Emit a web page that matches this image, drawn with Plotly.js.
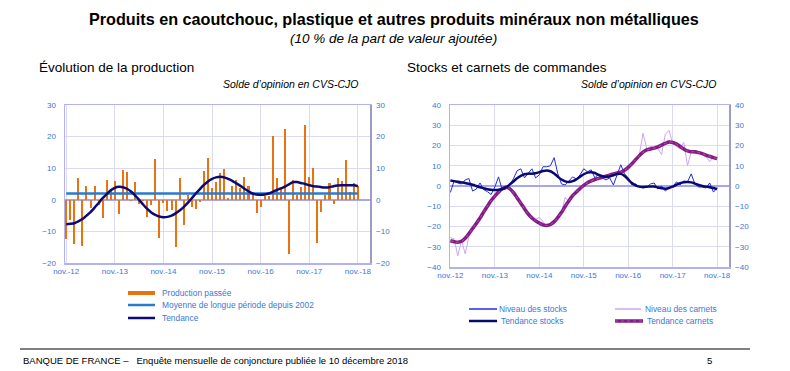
<!DOCTYPE html>
<html><head><meta charset="utf-8">
<script src="https://cdn.plot.ly/plotly-3.0.1.min.js"></script>
<style>html,body{margin:0;padding:0;background:#fff}#chart{width:790px;height:371px}</style>
</head><body><div id="chart"></div>
<script>
// ---- Data (monthly, nov. 2012 -> nov. 2018) ----
const tickLabels = ['nov.-12','nov.-13','nov.-14','nov.-15','nov.-16','nov.-17','nov.-18'];
const tickPos = [0, 12, 24, 36, 48, 60, 72];

const productionPassee = [
  -12.5, -6.4, -14, 6.8, -14.6, 4.5, -2.5, 4.5, -1.7, -5.6,
  6.2, 3, 6, -4.5, 9.4, 8.9, -0.4, 5.7, -1.4, -0.3,
  -5.4, -1.7, 12.9, -12, -1, -3.5, -3.3, -15, 7, -8,
  1.5, -2.2, -2.9, -0.6, 9.2, 13.2, 3.6, 5.7, 8.5, 9.7,
  0.5, 4.5, 6.2, 3.8, 7.3, 4.3, 1.5, -4.1, -2.2, 1.2,
  1.2, 20.2, 7, 3.8, 22.5, -17.3, 6.2, 1.5, 3.9, 23.8,
  7.2, 10, -13.7, -3.9, 1.4, 5.3, -1.2, 7, 6.1, 12.5,
  2.5, 5.4, 4.3
];
const moyenneLonguePeriode = 2.0;
const tendanceProduction = [
  -7.7, -7.6, -7.4, -6.8, -6.1, -5.0, -3.9, -2.5, -1.0, 0.5,
  1.8, 3.0, 3.8, 4.1, 4.0, 3.5, 2.6, 1.4, 0.0, -1.5,
  -2.9, -4.0, -4.8, -5.3, -5.5, -5.4, -5.0, -4.3, -3.4, -2.3,
  -1.0, 0.5, 2.0, 3.4, 4.7, 5.8, 6.6, 7.1, 7.3, 7.1,
  6.6, 6.0, 5.2, 4.4, 3.5, 2.7, 2.0, 1.7, 1.6, 1.7,
  2.0, 2.5, 3.1, 3.6, 4.2, 4.9, 5.6, 5.6, 5.3, 5.0,
  4.6, 4.3, 4.2, 4.0, 3.9, 4.0, 4.3, 4.5, 4.6, 4.6,
  4.6, 4.6, 4.3
];
const niveauStocks = [
  -3.2, 2.5, 1.5, 1.0, 3.0, 3.7, -2.5, -1.5, 1.5, -1.8,
  -2.8, -4.2, -0.5, 4.5, -2.0, -1.5, 0.5, 3.5, 7.5, 8.5,
  4.0, 6.0, 8.5, 4.0, 5.5, 9.5, 9.5, 10.0, 14.0, 6.0,
  1.0, 0.5, 2.5, 4.5, 3.5, 5.5, 8.5, 7.0, 8.0, 4.0,
  6.0, 4.0, 3.0, 4.0, 0.5, 6.0, 10.5, 6.0, 4.0, 0.5,
  1.0, -0.5, -1.0, -0.5, 1.0, 1.5, -1.5, 0.0, -2.5, -1.0,
  -0.5, 2.0, 0.5, 2.5, 2.0, 6.0, 1.0, -0.5, -0.5, -1.0,
  1.5, -3.0, -1.0
];
const tendanceStocks = [
  2.7, 2.4, 2.1, 1.8, 1.5, 1.1, 0.6, 0.0, -0.6, -1.1,
  -1.6, -1.9, -2.0, -1.9, -1.5, -0.6, 0.7, 2.2, 3.8, 5.0,
  5.8, 6.1, 6.1, 6.3, 6.8, 7.4, 7.7, 7.3, 6.2, 4.6,
  3.2, 2.3, 2.0, 2.4, 3.3, 4.6, 5.8, 6.6, 6.8, 6.4,
  5.5, 4.8, 4.5, 4.7, 5.3, 5.9, 6.0, 5.0, 3.2, 1.5,
  0.3, -0.3, -0.5, -0.4, -0.2, -0.3, -0.7, -1.1, -1.3, -1.0,
  -0.3, 0.6, 1.4, 1.9, 2.0, 1.8, 1.2, 0.5, 0.0, -0.3,
  -0.6, -1.0, -1.5
];
const niveauCarnets = [
  -25.5, -26.0, -34.5, -27.0, -33.5, -25.0, -20.0, -17.5, -15.5, -12.5,
  -10.5, -7.0, -4.5, -3.0, -1.5, 0.0, -0.5, -2.5, -6.0, -8.5,
  -11.0, -15.0, -14.5, -16.5, -15.5, -17.5, -20.0, -19.5, -18.5, -17.0,
  -13.0, -5.5, -8.0, -4.0, -3.0, -0.5, 1.0, 1.5, 2.0, 4.0,
  3.0, 5.5, 4.0, 5.0, 6.5, 5.5, 7.5, 7.0, 10.0, 11.0,
  13.0, 15.5, 26.0, 18.5, 19.5, 19.0, 18.5, 15.5, 25.5, 27.5,
  21.0, 19.5, 18.5, 21.5, 10.0, 17.0, 16.0, 16.5, 15.5, 14.5,
  12.0, 14.0, 13.5
];
const tendanceCarnets = [
  -27.0, -27.5, -27.8, -27.3, -25.8, -23.5, -21.0, -18.5, -15.8, -12.8,
  -10.0, -7.2, -5.0, -3.0, -1.3, -0.6, -1.3, -3.2, -5.8, -8.5,
  -11.2, -13.8, -15.8, -17.2, -18.3, -19.2, -19.5, -19.0, -17.6, -15.5,
  -13.0, -10.0, -7.3, -4.8, -3.0, -1.2, 0.3, 1.6, 2.5, 3.2,
  3.8, 4.3, 4.9, 5.4, 6.0, 6.5, 6.9, 7.8, 9.2, 11.0,
  13.0, 15.0, 16.7, 17.8, 18.3, 18.7, 19.3, 20.2, 21.0, 21.7,
  21.5, 20.8, 19.5, 18.3, 17.3, 16.9, 16.9, 16.5, 16.0, 15.3,
  14.6, 14.0, 13.5
];
const months = productionPassee.map((_, i) => i);

// ---- Styling helpers ----
const W = 790, H = 371;
const fx = p => p / W;
const fy = p => 1 - p / H;
const FONT = 'Liberation Sans, Arial, sans-serif';
const TICKBLUE = '#3A78D6';
const GRID = '#DADAF7';
const FRAME = '#B2B2F2';
const ORANGE = '#E8730F';

const traces = [
  {type: 'bar', x: months, y: productionPassee, xaxis: 'x', yaxis: 'y',
   marker: {color: ORANGE, line: {width: 0}}, width: 0.5, name: 'Production passée', showlegend: false},
  {type: 'scatter', mode: 'lines', x: [months[0], months[months.length - 1]],
   y: [moyenneLonguePeriode, moyenneLonguePeriode], xaxis: 'x', yaxis: 'y',
   line: {color: '#2A7AD0', width: 2.5}, name: 'Moyenne de longue période depuis 2002', showlegend: false},
  {type: 'scatter', mode: 'lines', x: months, y: tendanceProduction, xaxis: 'x', yaxis: 'y3',
   line: {color: '#0A0A78', width: 2.5, shape: 'spline'}, name: 'Tendance', showlegend: false},

  {type: 'scatter', mode: 'lines', x: months, y: niveauCarnets, xaxis: 'x2', yaxis: 'y2',
   line: {color: '#CDA6F2', width: 1}, name: 'Niveau des carnets', showlegend: false},
  {type: 'scatter', mode: 'lines', x: months, y: niveauStocks, xaxis: 'x2', yaxis: 'y2',
   line: {color: '#1E2EE6', width: 1}, name: 'Niveau des stocks', showlegend: false},
  {type: 'scatter', mode: 'lines', x: months, y: tendanceCarnets, xaxis: 'x2', yaxis: 'y2',
   line: {color: '#841A84', width: 3.5, shape: 'spline'}, name: 'Tendance carnets', showlegend: false},
  {type: 'scatter', mode: 'lines', x: months, y: tendanceCarnets, xaxis: 'x2', yaxis: 'y2',
   line: {color: '#A858A8', width: 1, dash: 'dot', shape: 'spline'}, hoverinfo: 'skip', showlegend: false},
  {type: 'scatter', mode: 'lines', x: months, y: tendanceStocks, xaxis: 'x2', yaxis: 'y4',
   line: {color: '#0A0A6E', width: 2.5, shape: 'spline'}, name: 'Tendance stocks', showlegend: false}
];

const tf = () => ({family: FONT, size: 8, color: TICKBLUE});
const xBase = () => ({
  tickvals: tickPos, ticktext: tickLabels, showgrid: true, gridcolor: GRID, gridwidth: 1,
  showline: true, mirror: true, linecolor: FRAME, linewidth: 1.5, zeroline: false,
  ticks: '', color: TICKBLUE, tickfont: tf(), fixedrange: true
});
const yBase = () => ({
  dtick: 10, showgrid: true, gridcolor: GRID, gridwidth: 1, zeroline: true,
  zerolinecolor: '#A6A6EC', zerolinewidth: 1.5, showline: true, mirror: true, color: TICKBLUE,
  linecolor: FRAME, linewidth: 1.5, ticks: '', tickfont: tf(), ticklabelstandoff: 6, fixedrange: true
});
const yRight = () => ({
  side: 'right', dtick: 10, showgrid: false, zeroline: false, showline: true, color: TICKBLUE,
  linecolor: '#9C9CC6', linewidth: 1.5, ticks: '', tickfont: tf(), ticklabelstandoff: 3, fixedrange: true
});

const layout = {
  width: W, height: H, margin: {l: 0, r: 0, t: 0, b: 0},
  paper_bgcolor: '#fff', plot_bgcolor: '#fff', showlegend: false, bargap: 0,
  font: {family: FONT},
  xaxis: Object.assign(xBase(), {domain: [fx(65), fx(370)], range: [-0.3, 75], anchor: 'y'}),
  yaxis: Object.assign(yBase(), {domain: [fy(263), fy(105)], range: [-20, 30], anchor: 'x'}),
  yaxis3: Object.assign(yRight(), {overlaying: 'y', anchor: 'x', range: [-20, 30]}),
  xaxis2: Object.assign(xBase(), {domain: [fx(450), fx(729)], range: [-0.1, 75.2], anchor: 'y2'}),
  yaxis2: Object.assign(yBase(), {domain: [fy(267), fy(105)], range: [-40, 40], anchor: 'x2'}),
  yaxis4: Object.assign(yRight(), {overlaying: 'y2', anchor: 'x2', range: [-40, 40]}),
  shapes: [],
  annotations: []
};

function txt(text, x, y, opts) {
  const o = opts || {};
  layout.annotations.push({
    text: text, xref: 'paper', yref: 'paper', x: fx(x), y: fy(y),
    xanchor: o.anchor || 'left', yanchor: 'middle', showarrow: false,
    font: {family: FONT, size: o.size || 9, color: o.color || '#000',
           weight: o.weight || 'normal', style: o.style || 'normal'}
  });
}
function seg(x0, x1, y, color, width, dash) {
  layout.shapes.push({type: 'line', xref: 'paper', yref: 'paper',
    x0: fx(x0), x1: fx(x1), y0: fy(y), y1: fy(y),
    line: {color: color, width: width, dash: dash || 'solid'}});
}

// Titles
txt('Produits en caoutchouc, plastique et autres produits minéraux non métalliques', 394, 19,
    {anchor: 'center', size: 16.2, weight: 'bold'});
txt('(10 % de la part de valeur ajoutée)', 393, 38, {anchor: 'center', size: 13.5, style: 'italic'});
txt('Évolution de la production', 37, 68, {size: 13.5});
txt('Solde d\u2019opinion en CVS-CJO', 360, 84, {anchor: 'right', size: 10.5, style: 'italic'});
txt('Stocks et carnets de commandes', 405, 68, {size: 13.5});
txt('Solde d\u2019opinion en CVS-CJO', 718, 84, {anchor: 'right', size: 10.5, style: 'italic'});

// Left legend
const LEG = 8.4;
seg(128, 155, 293, ORANGE, 4);
txt('Production passée', 160, 293, {size: LEG, color: TICKBLUE});
seg(128, 155, 305, '#2A7AD0', 2.5);
txt('Moyenne de longue période depuis 2002', 160, 305, {size: LEG, color: TICKBLUE});
seg(128, 155, 318, '#0A0A78', 2.5);
txt('Tendance', 160, 318, {size: LEG, color: TICKBLUE});

// Right legend
seg(469, 497, 309, '#1E2EE6', 1.5);
txt('Niveau des stocks', 497, 309, {size: LEG, color: TICKBLUE});
seg(469, 497, 321, '#0A0A6E', 2.5);
txt('Tendance stocks', 499, 321, {size: LEG, color: TICKBLUE});
seg(615, 641, 309, '#CDA6F2', 1.5);
txt('Niveau des carnets', 643, 309, {size: LEG, color: TICKBLUE});
seg(615, 643, 321, '#841A84', 3.5);
seg(615, 643, 321, '#A858A8', 1, 'dot');
txt('Tendance carnets', 645, 321, {size: LEG, color: TICKBLUE});

// Footer
seg(20, 750, 349, '#000', 1);
txt('BANQUE DE FRANCE \u2013   Enquête mensuelle de conjoncture publiée le 10 décembre 2018', 21, 360, {size: 9.5});
txt('5', 709, 360, {anchor: 'center', size: 9.5});

Plotly.newPlot('chart', traces, layout, {staticPlot: true, displayModeBar: false});
</script>
</body></html>
